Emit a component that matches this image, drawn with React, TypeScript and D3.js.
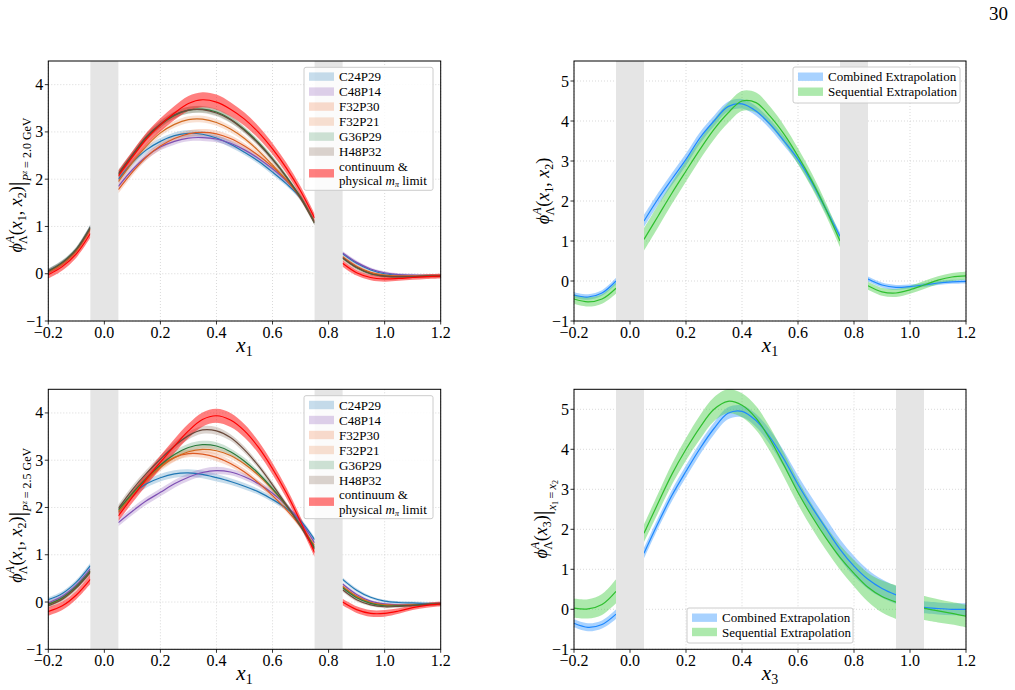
import React from 'react';
import * as d3 from 'd3';

const FONT = '"Liberation Serif", "DejaVu Serif", "Times New Roman", serif';

// Tick values
const X_TICKS = [-0.2, 0.0, 0.2, 0.4, 0.6, 0.8, 1.0, 1.2];
const Y_TICKS_ENS = [-1, 0, 1, 2, 3, 4];
const Y_TICKS_EXT = [-1, 0, 1, 2, 3, 4, 5];

// Sampling grid in x1 (three visible pieces around the excluded windows)
const GRID_X1 = [
  -0.2, -0.15, -0.1, -0.05,
  0.05, 0.1, 0.15, 0.2, 0.25, 0.3, 0.35, 0.4, 0.45, 0.5, 0.55, 0.6, 0.65, 0.7, 0.75,
  0.85, 0.9, 0.95, 1.0, 1.05, 1.1, 1.15, 1.2,
];
const PIECES_X1: [number, number][] = [[0, 4], [4, 19], [19, 27]];
const EXCLUDED_X1: [number, number][] = [[-0.05, 0.05], [0.75, 0.85]];

// Sampling grid in x3
const GRID_X3 = [
  -0.2, -0.15, -0.1, -0.05,
  0.05, 0.1, 0.15, 0.2, 0.25, 0.3, 0.35, 0.4, 0.45, 0.5, 0.55, 0.6, 0.65, 0.7, 0.75, 0.8, 0.85, 0.9, 0.95,
  1.05, 1.1, 1.15, 1.2,
];
const PIECES_X3: [number, number][] = [[0, 4], [4, 23], [23, 27]];
const EXCLUDED_X3: [number, number][] = [[-0.05, 0.05], [0.95, 1.05]];

const ENSEMBLES = ['C24P29', 'C48P14', 'F32P30', 'F32P21', 'G36P29', 'H48P32'];

// P^z = 2.0 GeV
const PZ20_C24P29 = [0.05, 0.22, 0.5, 0.97, 2.0, 2.35, 2.62, 2.8, 2.92, 2.97, 2.95, 2.87, 2.74, 2.57, 2.38, 2.15, 1.9, 1.6, 1.08, 0.42, 0.22, 0.08, 0.0, -0.03, -0.04, -0.04, -0.04];
const PZ20_C48P14 = [0.06, 0.23, 0.51, 0.98, 1.85, 2.2, 2.48, 2.68, 2.8, 2.87, 2.88, 2.85, 2.76, 2.62, 2.44, 2.22, 1.96, 1.62, 1.1, 0.44, 0.24, 0.1, 0.02, -0.02, -0.03, -0.04, -0.04];
const PZ20_F32P30 = [0.04, 0.21, 0.49, 0.95, 1.78, 2.15, 2.47, 2.7, 2.86, 2.96, 2.99, 2.96, 2.86, 2.7, 2.5, 2.26, 1.98, 1.62, 1.1, 0.36, 0.16, 0.03, -0.03, -0.05, -0.05, -0.05, -0.04];
const PZ20_F32P21 = [0.04, 0.21, 0.49, 0.95, 1.95, 2.35, 2.7, 2.98, 3.16, 3.26, 3.27, 3.2, 3.06, 2.86, 2.6, 2.3, 1.98, 1.6, 1.08, 0.34, 0.14, 0.02, -0.04, -0.05, -0.05, -0.05, -0.04];
const PZ20_G36P29 = [0.06, 0.24, 0.52, 0.98, 2.1, 2.5, 2.88, 3.15, 3.35, 3.46, 3.48, 3.42, 3.27, 3.05, 2.77, 2.43, 2.05, 1.62, 1.08, 0.33, 0.13, 0.0, -0.05, -0.06, -0.06, -0.05, -0.05];
const PZ20_H48P32 = [0.05, 0.23, 0.51, 0.97, 2.12, 2.52, 2.9, 3.17, 3.36, 3.46, 3.47, 3.4, 3.26, 3.03, 2.75, 2.42, 2.04, 1.6, 1.08, 0.34, 0.13, 0.0, -0.05, -0.06, -0.06, -0.05, -0.05];
const PZ20_CONT = [-0.02, 0.15, 0.42, 0.85, 2.07, 2.47, 2.85, 3.15, 3.4, 3.6, 3.68, 3.63, 3.48, 3.27, 2.99, 2.64, 2.23, 1.75, 1.18, 0.22, 0.02, -0.08, -0.11, -0.1, -0.08, -0.06, -0.05];

const PZ20_ERR_ENS = [0.05, 0.05, 0.05, 0.06, 0.08, 0.07, 0.07, 0.07, 0.07, 0.07, 0.07, 0.07, 0.07, 0.06, 0.06, 0.06, 0.05, 0.05, 0.05, 0.04, 0.04, 0.03, 0.03, 0.03, 0.03, 0.03, 0.03];
const PZ20_ERR_CONT = [0.08, 0.08, 0.08, 0.09, 0.11, 0.12, 0.13, 0.14, 0.15, 0.16, 0.16, 0.16, 0.15, 0.14, 0.13, 0.12, 0.11, 0.1, 0.09, 0.07, 0.06, 0.06, 0.06, 0.05, 0.05, 0.05, 0.05];

// P^z = 2.5 GeV
const PZ25_C24P29 = [0.05, 0.18, 0.42, 0.77, 1.9, 2.28, 2.5, 2.63, 2.71, 2.73, 2.7, 2.63, 2.55, 2.45, 2.33, 2.17, 1.98, 1.72, 1.32, 0.48, 0.25, 0.1, 0.02, -0.01, -0.02, -0.03, -0.03];
const PZ25_C48P14 = [-0.02, 0.12, 0.36, 0.7, 1.68, 1.92, 2.14, 2.32, 2.5, 2.64, 2.74, 2.78, 2.75, 2.65, 2.5, 2.3, 2.04, 1.7, 1.25, 0.38, 0.16, 0.02, -0.04, -0.06, -0.06, -0.05, -0.04];
const PZ25_F32P30 = [-0.05, 0.08, 0.32, 0.65, 1.9, 2.28, 2.6, 2.88, 3.06, 3.14, 3.13, 3.06, 2.93, 2.75, 2.52, 2.25, 1.95, 1.6, 1.2, 0.33, 0.12, -0.01, -0.06, -0.07, -0.06, -0.05, -0.04];
const PZ25_F32P21 = [-0.05, 0.08, 0.32, 0.65, 1.93, 2.28, 2.58, 2.85, 3.05, 3.18, 3.23, 3.2, 3.1, 2.92, 2.68, 2.38, 2.03, 1.62, 1.15, 0.33, 0.12, -0.01, -0.06, -0.07, -0.06, -0.05, -0.04];
const PZ25_G36P29 = [-0.05, 0.09, 0.33, 0.66, 1.95, 2.3, 2.62, 2.9, 3.12, 3.27, 3.33, 3.3, 3.18, 2.98, 2.72, 2.4, 2.04, 1.62, 1.15, 0.3, 0.09, -0.03, -0.08, -0.08, -0.07, -0.05, -0.04];
const PZ25_H48P32 = [-0.08, 0.06, 0.3, 0.63, 1.98, 2.38, 2.72, 3.02, 3.3, 3.52, 3.64, 3.62, 3.48, 3.22, 2.88, 2.48, 2.05, 1.6, 1.12, 0.26, 0.05, -0.06, -0.1, -0.09, -0.07, -0.05, -0.04];
const PZ25_CONT = [-0.2, -0.08, 0.15, 0.48, 1.82, 2.22, 2.6, 2.96, 3.3, 3.62, 3.86, 3.94, 3.85, 3.62, 3.27, 2.82, 2.3, 1.7, 1.05, 0.0, -0.16, -0.24, -0.24, -0.19, -0.12, -0.07, -0.04];

const PZ25_ERR_ENS = [0.05, 0.05, 0.05, 0.06, 0.08, 0.08, 0.08, 0.08, 0.08, 0.08, 0.08, 0.08, 0.07, 0.07, 0.06, 0.06, 0.05, 0.05, 0.05, 0.04, 0.04, 0.03, 0.03, 0.03, 0.03, 0.03, 0.03];
const PZ25_ERR_CONT = [0.09, 0.09, 0.09, 0.1, 0.11, 0.12, 0.13, 0.14, 0.15, 0.15, 0.15, 0.15, 0.15, 0.14, 0.13, 0.12, 0.11, 0.1, 0.09, 0.07, 0.07, 0.07, 0.07, 0.06, 0.05, 0.05, 0.05];

// Extrapolations in x1
const X1_COMBINED = [-0.35, -0.4, -0.3, 0.0, 1.5, 2.05, 2.55, 3.04, 3.58, 4.0, 4.36, 4.43, 4.25, 3.92, 3.5, 3.04, 2.46, 1.79, 1.12, 0.05, -0.1, -0.16, -0.14, -0.1, -0.05, -0.02, -0.01];
const X1_COMBINED_ERR = [0.07, 0.07, 0.07, 0.08, 0.15, 0.15, 0.15, 0.15, 0.14, 0.13, 0.12, 0.12, 0.12, 0.12, 0.12, 0.11, 0.11, 0.1, 0.1, 0.06, 0.06, 0.06, 0.05, 0.05, 0.05, 0.05, 0.05];
const X1_SEQUENTIAL = [-0.45, -0.52, -0.45, -0.18, 1.04, 1.62, 2.2, 2.75, 3.29, 3.79, 4.2, 4.5, 4.46, 4.12, 3.67, 3.12, 2.5, 1.79, 1.0, -0.12, -0.27, -0.3, -0.22, -0.1, 0.02, 0.1, 0.13];
const X1_SEQUENTIAL_ERR = [0.12, 0.12, 0.12, 0.14, 0.28, 0.28, 0.27, 0.26, 0.25, 0.25, 0.25, 0.25, 0.25, 0.24, 0.22, 0.2, 0.18, 0.16, 0.15, 0.1, 0.1, 0.1, 0.1, 0.1, 0.1, 0.1, 0.1];

// Extrapolations in x3 at x1 = x2
const X3_COMBINED = [-0.35, -0.45, -0.38, -0.12, 1.4, 2.15, 2.85, 3.45, 4.02, 4.52, 4.9, 4.95, 4.72, 4.3, 3.75, 3.12, 2.55, 2.02, 1.5, 1.08, 0.75, 0.52, 0.36, 0.05, 0.02, 0.0, 0.0];
const X3_COMBINED_ERR = [0.1, 0.1, 0.1, 0.12, 0.13, 0.13, 0.14, 0.15, 0.15, 0.15, 0.15, 0.15, 0.16, 0.18, 0.2, 0.22, 0.24, 0.25, 0.25, 0.25, 0.24, 0.23, 0.22, 0.15, 0.15, 0.15, 0.15];
const X3_SEQUENTIAL = [0.03, 0.01, 0.12, 0.45, 1.9, 2.65, 3.38, 4.0, 4.55, 5.0, 5.2, 5.1, 4.78, 4.25, 3.6, 2.92, 2.32, 1.78, 1.3, 0.9, 0.55, 0.32, 0.18, 0.03, -0.04, -0.1, -0.17];
const X3_SEQUENTIAL_ERR = [0.24, 0.24, 0.26, 0.3, 0.22, 0.24, 0.26, 0.28, 0.3, 0.3, 0.3, 0.3, 0.3, 0.3, 0.3, 0.3, 0.3, 0.3, 0.31, 0.33, 0.36, 0.4, 0.42, 0.3, 0.29, 0.28, 0.28];

type Series = { name: string; line: string; fill: string; alpha: number; mean: number[]; err: number[] };

const ENS_STYLE = [
  { line: '#1f77b4', fill: '#1f77b4', alpha: 0.25 },
  { line: '#7e4fb4', fill: '#9467bd', alpha: 0.3 },
  { line: '#dd5a22', fill: '#f08a5d', alpha: 0.3 },
  { line: '#d2691e', fill: '#ec9a6e', alpha: 0.3 },
  { line: '#2a7a3b', fill: '#3f8f5a', alpha: 0.25 },
  { line: '#6a4a3c', fill: '#8a7060', alpha: 0.3 },
];
const CONT_STYLE = { line: '#ff0000', fill: '#ff0000', alpha: 0.5 };

const PZ20_MEANS = [PZ20_C24P29, PZ20_C48P14, PZ20_F32P30, PZ20_F32P21, PZ20_G36P29, PZ20_H48P32];
const PZ25_MEANS = [PZ25_C24P29, PZ25_C48P14, PZ25_F32P30, PZ25_F32P21, PZ25_G36P29, PZ25_H48P32];

function ensembleSeries(means: number[][], err: number[], cont: number[], contErr: number[]): Series[] {
  const out: Series[] = ENSEMBLES.map((name, i) => ({ name, ...ENS_STYLE[i], mean: means[i], err }));
  out.push({ name: 'continuum', ...CONT_STYLE, mean: cont, err: contErr });
  return out;
}

const EXT_BLUE = { line: '#1e88ff', fill: '#3d9bff', alpha: 0.45 };
const EXT_GREEN = { line: '#2fbf2f', fill: '#49cf49', alpha: 0.45 };

type Box = { x: number; y: number; w: number; h: number };

type LegendRow = { label: React.ReactNode; fill: string; alpha: number };

function Legend({ box, rows, rowCenters }: { box: Box; rows: LegendRow[]; rowCenters: number[] }) {
  return (
    <g>
      <rect x={box.x} y={box.y} width={box.w} height={box.h} rx={2} fill="#ffffff" fillOpacity={0.85} stroke="#cccccc" strokeWidth={1} />
      {rows.map((r, i) => (
        <g key={i}>
          <rect x={box.x + 5} y={box.y + rowCenters[i] - 4.2} width={25} height={8.4} fill={r.fill} fillOpacity={r.alpha} />
          {r.label}
        </g>
      ))}
    </g>
  );
}

function Panel(props: {
  box: Box;
  yDomain: [number, number];
  yTicks: number[];
  grid: number[];
  pieces: [number, number][];
  excluded: [number, number][];
  series: Series[];
}) {
  const { box, yDomain, yTicks, grid, pieces, excluded, series } = props;
  const x = d3.scaleLinear().domain([-0.2, 1.2]).range([box.x, box.x + box.w]);
  const y = d3.scaleLinear().domain(yDomain).range([box.y + box.h, box.y]);

  const pieceIdx = pieces.map(([a, b]) => d3.range(a, b));
  const curve = d3.curveCatmullRom.alpha(0.5);

  return (
    <g>
      {X_TICKS.map((t) => (
        <line key={'gx' + t} x1={x(t)} x2={x(t)} y1={box.y} y2={box.y + box.h} stroke="#cfcfcf" strokeWidth={0.8} strokeDasharray="1,2" />
      ))}
      {yTicks.map((t) => (
        <line key={'gy' + t} x1={box.x} x2={box.x + box.w} y1={y(t)} y2={y(t)} stroke="#cfcfcf" strokeWidth={0.8} strokeDasharray="1,2" />
      ))}
      {series.map((s) =>
        pieceIdx.map((idx, k) => {
          const area = d3
            .area<number>()
            .x((i) => x(grid[i]))
            .y0((i) => y(s.mean[i] - s.err[i]))
            .y1((i) => y(s.mean[i] + s.err[i]))
            .curve(curve);
          return <path key={s.name + 'a' + k} d={area(idx) || ''} fill={s.fill} fillOpacity={s.alpha} stroke="none" />;
        })
      )}
      {series.map((s) =>
        pieceIdx.map((idx, k) => {
          const ln = d3
            .line<number>()
            .x((i) => x(grid[i]))
            .y((i) => y(s.mean[i]))
            .curve(curve);
          return <path key={s.name + 'l' + k} d={ln(idx) || ''} fill="none" stroke={s.line} strokeWidth={1.2} />;
        })
      )}
      {excluded.map(([a, b]) => (
        <rect key={'ex' + a} x={x(a)} y={box.y} width={x(b) - x(a)} height={box.h} fill="#e5e5e5" />
      ))}
      <rect x={box.x} y={box.y} width={box.w} height={box.h} fill="none" stroke="#000" strokeWidth={1} />
      {X_TICKS.map((t) => (
        <g key={'tx' + t}>
          <line x1={x(t)} x2={x(t)} y1={box.y + box.h} y2={box.y + box.h + 3.5} stroke="#000" strokeWidth={0.8} />
          <text x={x(t)} y={box.y + box.h + 16.5} textAnchor="middle" fontFamily={FONT} fontSize={16}>
            {d3.format('.1f')(t).replace('-', '\u2212')}
          </text>
        </g>
      ))}
      {yTicks.map((t) => (
        <g key={'ty' + t}>
          <line x1={box.x - 3.5} x2={box.x} y1={y(t)} y2={y(t)} stroke="#000" strokeWidth={0.8} />
          <text x={box.x - 5} y={y(t) + 5.5} textAnchor="end" fontFamily={FONT} fontSize={16}>
            {String(t).replace('-', '\u2212')}
          </text>
        </g>
      ))}
    </g>
  );
}

function XLabel({ cx, y, sub }: { cx: number; y: number; sub: string }) {
  return (
    <text x={cx} y={y} textAnchor="middle" fontFamily={FONT} fontSize={21}>
      <tspan fontStyle="italic">x</tspan>
      <tspan fontSize={14} dy={4}>{sub}</tspan>
    </text>
  );
}

// ϕ^A_Λ(x_i, ...) with an optional evaluation bar and subscript, rotated along the y axis.
// Every dy below moves the baseline relative to the previous glyph run.
function PhiLabel({ x, y, args, tail }: { x: number; y: number; args: string[]; tail?: React.ReactNode }) {
  return (
    <text transform={`translate(${x},${y}) rotate(-90)`} textAnchor="middle" fontFamily={FONT} fontSize={18}>
      <tspan fontStyle="italic">{'\u03D5'}</tspan>
      <tspan fontSize={12} dy={-8} fontStyle="italic">A</tspan>
      <tspan fontSize={12} dx={-8} dy={13}>{'\u039B'}</tspan>
      <tspan dy={-5}>(</tspan>
      {args.map((a, i) => (
        <React.Fragment key={i}>
          {i > 0 && <tspan dy={-4}>, </tspan>}
          <tspan fontStyle="italic">x</tspan>
          <tspan fontSize={12} dy={4}>{a}</tspan>
        </React.Fragment>
      ))}
      <tspan dy={-4}>)</tspan>
      {tail}
    </text>
  );
}

function PzTail({ value }: { value: string }) {
  return (
    <>
      <tspan fontSize={24} dy={3}>|</tspan>
      <tspan fontSize={12} fontStyle="italic" dy={6}>P</tspan>
      <tspan fontSize={8} fontStyle="italic" dy={-4}>z</tspan>
      <tspan fontSize={12} dy={4}>{` = ${value} GeV`}</tspan>
    </>
  );
}

function DiagTail() {
  return (
    <>
      <tspan fontSize={24} dy={3}>|</tspan>
      <tspan fontSize={12} fontStyle="italic" dy={6}>x</tspan>
      <tspan fontSize={8} dy={2}>1</tspan>
      <tspan fontSize={12} dy={-2}>{'\u2009=\u2009'}</tspan>
      <tspan fontSize={12} fontStyle="italic">x</tspan>
      <tspan fontSize={8} dy={2}>2</tspan>
    </>
  );
}

function ensembleLegend(box: Box) {
  const centers = [9.3, 24.3, 39.3, 54.3, 69.3, 84.3, 106];
  const tx = box.x + 35;
  const rows: LegendRow[] = ENSEMBLES.map((name, i) => ({
    fill: ENS_STYLE[i].fill,
    alpha: ENS_STYLE[i].alpha,
    label: (
      <text x={tx} y={box.y + centers[i] + 4.5} fontFamily={FONT} fontSize={13}>{name}</text>
    ),
  }));
  rows.push({
    fill: CONT_STYLE.fill,
    alpha: CONT_STYLE.alpha,
    label: (
      <g>
        <text x={tx} y={box.y + 98.7 + 4.5} fontFamily={FONT} fontSize={13}>continuum &amp;</text>
        <text x={tx} y={box.y + 113.4 + 4.5} fontFamily={FONT} fontSize={13}>
          physical <tspan fontStyle="italic">m</tspan>
          <tspan fontSize={8} fontStyle="italic" dy={2}>{'\u03C0'}</tspan>
          <tspan dy={-2}> limit</tspan>
        </text>
      </g>
    ),
  });
  return <Legend box={box} rows={rows} rowCenters={centers} />;
}

function extrapLegend(box: Box, centers: number[]) {
  const tx = box.x + 35;
  const rows: LegendRow[] = [
    { fill: EXT_BLUE.fill, alpha: EXT_BLUE.alpha, label: <text x={tx} y={box.y + centers[0] + 4.5} fontFamily={FONT} fontSize={13}>Combined Extrapolation</text> },
    { fill: EXT_GREEN.fill, alpha: EXT_GREEN.alpha, label: <text x={tx} y={box.y + centers[1] + 4.5} fontFamily={FONT} fontSize={13}>Sequential Extrapolation</text> },
  ];
  return <Legend box={box} rows={rows} rowCenters={centers} />;
}

export default function App() {
  const B1: Box = { x: 48.3, y: 61, w: 392.4, h: 260 };
  const B2: Box = { x: 574, y: 61, w: 392, h: 260 };
  const B3: Box = { x: 48.3, y: 389.3, w: 392.4, h: 260 };
  const B4: Box = { x: 574, y: 389.3, w: 392, h: 260 };

  const s1 = ensembleSeries(PZ20_MEANS, PZ20_ERR_ENS, PZ20_CONT, PZ20_ERR_CONT);
  const s3 = ensembleSeries(PZ25_MEANS, PZ25_ERR_ENS, PZ25_CONT, PZ25_ERR_CONT);
  const s2: Series[] = [
    { name: 'Combined', ...EXT_BLUE, mean: X1_COMBINED, err: X1_COMBINED_ERR },
    { name: 'Sequential', ...EXT_GREEN, mean: X1_SEQUENTIAL, err: X1_SEQUENTIAL_ERR },
  ];
  const s4: Series[] = [
    { name: 'Combined', ...EXT_BLUE, mean: X3_COMBINED, err: X3_COMBINED_ERR },
    { name: 'Sequential', ...EXT_GREEN, mean: X3_SEQUENTIAL, err: X3_SEQUENTIAL_ERR },
  ];

  return (
    <svg width={1015} height={690} style={{ position: 'absolute', left: 0, top: 0, background: '#fff' }} xmlns="http://www.w3.org/2000/svg">
      <rect x={0} y={0} width={1015} height={690} fill="#fff" />
      <text x={1008} y={20} textAnchor="end" fontFamily={FONT} fontSize={19}>30</text>

      <Panel box={B1} yDomain={[-1, 4.5]} yTicks={Y_TICKS_ENS} grid={GRID_X1} pieces={PIECES_X1} excluded={EXCLUDED_X1} series={s1} />
      {ensembleLegend({ x: 304, y: 67.3, w: 129, h: 123 })}
      <XLabel cx={B1.x + B1.w / 2} y={352} sub="1" />
      <PhiLabel x={22} y={B1.y + B1.h / 2 - 6} args={['1', '2']} tail={<PzTail value="2.0" />} />

      <Panel box={B2} yDomain={[-1, 5.5]} yTicks={Y_TICKS_EXT} grid={GRID_X1} pieces={PIECES_X1} excluded={EXCLUDED_X1} series={s2} />
      {extrapLegend({ x: 793, y: 67, w: 167, h: 36 }, [9.7, 24.7])}
      <XLabel cx={B2.x + B2.w / 2} y={352} sub="1" />
      <PhiLabel x={549} y={B2.y + B2.h / 2} args={['1', '2']} />

      <Panel box={B3} yDomain={[-1, 4.5]} yTicks={Y_TICKS_ENS} grid={GRID_X1} pieces={PIECES_X1} excluded={EXCLUDED_X1} series={s3} />
      {ensembleLegend({ x: 304, y: 395.7, w: 129, h: 123 })}
      <XLabel cx={B3.x + B3.w / 2} y={680} sub="1" />
      <PhiLabel x={22} y={B3.y + B3.h / 2 - 4} args={['1', '2']} tail={<PzTail value="2.5" />} />

      <Panel box={B4} yDomain={[-1, 5.5]} yTicks={Y_TICKS_EXT} grid={GRID_X3} pieces={PIECES_X3} excluded={EXCLUDED_X3} series={s4} />
      {extrapLegend({ x: 687, y: 608, w: 166, h: 35 }, [9.7, 24])}
      <XLabel cx={B4.x + B4.w / 2} y={680} sub="3" />
      <PhiLabel x={547} y={B4.y + B4.h / 2} args={['3']} tail={<DiagTail />} />
    </svg>
  );
}
